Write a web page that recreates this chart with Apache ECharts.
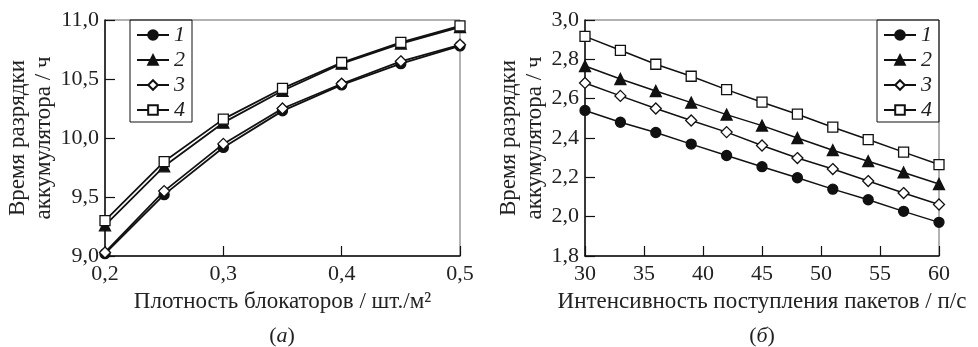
<!DOCTYPE html>
<html><head><meta charset="utf-8">
<script src="https://cdn.jsdelivr.net/npm/echarts@6/dist/echarts.min.js"></script>
<style>html,body{margin:0;padding:0;background:#fff}#c{width:978px;height:347px}</style>
</head><body><div id="c"></div>
<script>
// Panel (а)
const xA = [0.2, 0.25, 0.3, 0.35, 0.4, 0.45, 0.5];
const a1 = [9.02, 9.52, 9.92, 10.23, 10.45, 10.63, 10.78];
const a2 = [9.26, 9.76, 10.13, 10.40, 10.63, 10.80, 10.94];
const a3 = [9.03, 9.55, 9.95, 10.25, 10.46, 10.65, 10.79];
const a4 = [9.30, 9.80, 10.16, 10.42, 10.64, 10.81, 10.95];
// Panel (б)
const xB = [30, 33, 36, 39, 42, 45, 48, 51, 54, 57, 60];
const b1 = [2.54, 2.48, 2.428, 2.369, 2.311, 2.254, 2.198, 2.14, 2.086, 2.027, 1.971];
const b2 = [2.766, 2.70, 2.639, 2.58, 2.519, 2.463, 2.40, 2.338, 2.282, 2.225, 2.166];
const b3 = [2.68, 2.614, 2.55, 2.489, 2.43, 2.362, 2.298, 2.242, 2.181, 2.12, 2.062];
const b4 = [2.917, 2.846, 2.775, 2.714, 2.646, 2.582, 2.521, 2.455, 2.392, 2.328, 2.265];
const seriesNames = ['1', '2', '3', '4'];
const yTitle = 'Время разрядки\nаккумулятора / ч';
const xTitleA = 'Плотность блокаторов / шт./м²';
const xTitleB = 'Интенсивность поступления пакетов / п/с';

const FONT = '"Liberation Serif", "DejaVu Serif", serif';
const comma = d => v => v.toFixed(d).replace('.', ',');
const styles = [
  {symbol: 'circle', symbolSize: 10, fill: '#111'},
  {symbol: 'triangle', symbolSize: 11, fill: '#111'},
  {symbol: 'diamond', symbolSize: 11, fill: '#fff'},
  {symbol: 'rect', symbolSize: 10, fill: '#fff'}
];
function mkSeries(xs, arrs, idx, lw) {
  return arrs.map((arr, i) => ({
    name: seriesNames[i], type: 'line', xAxisIndex: idx, yAxisIndex: idx,
    data: xs.map((x, j) => [x, arr[j]]),
    symbol: styles[i].symbol, symbolSize: styles[i].symbolSize,
    lineStyle: {color: '#111', width: lw},
    itemStyle: {color: styles[i].fill, borderColor: '#111', borderWidth: 1.3},
    emphasis: {disabled: true}, animation: false, z: 3 + i
  }));
}
function xAxis(idx, min, max, interval, fmt, name) {
  return {
    type: 'value', gridIndex: idx, min, max, interval,
    axisLine: {lineStyle: {color: '#111', width: 1.5}},
    axisTick: {inside: true, length: 10, lineStyle: {color: '#111', width: 1.2}},
    splitLine: {show: false},
    axisLabel: {formatter: fmt, fontFamily: FONT, fontSize: 22, color: '#222', margin: 7},
    name, nameLocation: 'middle', nameGap: 34,
    nameTextStyle: {fontFamily: FONT, fontSize: 23, color: '#222'}
  };
}
function yAxis(idx, min, max, interval, fmt, gap) {
  return {
    type: 'value', gridIndex: idx, min, max, interval,
    axisLine: {lineStyle: {color: '#111', width: 1.5}},
    axisTick: {inside: true, length: 10, lineStyle: {color: '#111', width: 1.2}},
    splitLine: {show: false},
    axisLabel: {formatter: fmt, fontFamily: FONT, fontSize: 22, color: '#222', margin: 6},
    name: yTitle, nameLocation: 'middle', nameRotate: 90, nameGap: gap,
    nameTextStyle: {fontFamily: FONT, fontSize: 23, color: '#222', lineHeight: 26}
  };
}
function legend(idx, left) {
  return {
    show: true, left, top: 20, orient: 'vertical',
    data: seriesNames.map(n => ({name: n})),
    borderColor: '#111', borderWidth: 1, padding: [4, 7, 1, 6],
    itemWidth: 32, itemHeight: 12, itemGap: 3,
    textStyle: {fontFamily: FONT, fontSize: 22, fontStyle: 'italic', color: '#222', lineHeight: 20},
    selectedMode: false
  };
}
const richT = {p: {fontFamily: FONT, fontSize: 22, fontWeight: 'normal', color: '#222'},
               i: {fontFamily: FONT, fontSize: 22, fontStyle: 'italic', fontWeight: 'normal', color: '#222'}};
const chart = echarts.init(document.getElementById('c'), null, {renderer: 'canvas'});
chart.setOption({
  backgroundColor: '#fff',
  animation: false,
  grid: [
    {left: 105, right: 518, top: 20, bottom: 91, show: true, borderColor: '#666', borderWidth: 1, outerBoundsMode: 'none', containLabel: false},
    {left: 585, right: 39, top: 20, bottom: 91, show: true, borderColor: '#666', borderWidth: 1, outerBoundsMode: 'none', containLabel: false}
  ],
  title: [
    {text: '{p|(}{i|а}{p|)}', left: 282, top: 325, textAlign: 'center', padding: 0, textStyle: {fontWeight: 'normal', rich: richT}},
    {text: '{p|(}{i|б}{p|)}', left: 762, top: 325, textAlign: 'center', padding: 0, textStyle: {fontWeight: 'normal', rich: richT}}
  ],
  legend: [legend(0, 130), legend(1, 877)],
  xAxis: [
    xAxis(0, 0.2, 0.5, 0.1, comma(1), xTitleA),
    xAxis(1, 30, 60, 5, v => String(Math.round(v)), xTitleB)
  ],
  yAxis: [
    yAxis(0, 9, 11, 0.5, comma(1), 46),
    yAxis(1, 1.8, 3.0, 0.2, comma(1), 37)
  ],
  series: [].concat(mkSeries(xA, [a1, a2, a3, a4], 0, 1.8), mkSeries(xB, [b1, b2, b3, b4], 1, 1.5))
});
</script></body></html>
